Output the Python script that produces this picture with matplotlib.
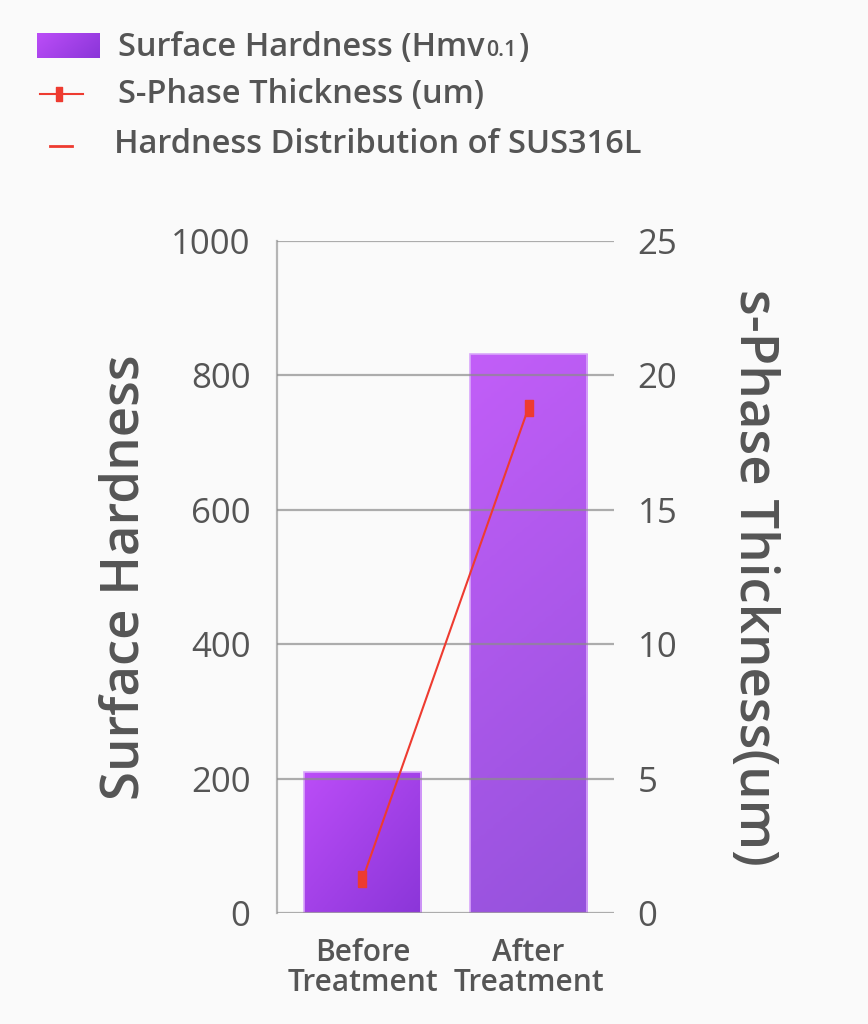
import matplotlib
matplotlib.use('Agg')
import matplotlib.pyplot as plt
from matplotlib.lines import Line2D
from matplotlib.colors import LinearSegmentedColormap
import numpy as np

BG = '#fafafa'
TEXT = '#555555'
RED = '#ee3b30'
GRID = '#8c8c8c'
FW = 600

plt.rcParams['font.family'] = ['Open Sans', 'Noto Sans', 'DejaVu Sans']

# data
categories = ['Before\nTreatment', 'After\nTreatment']
hardness = [210, 832]
thickness = [1.25, 18.8]
left_ticks = [0, 200, 400, 600, 800, 1000]
right_ticks = [0, 5, 10, 15, 20, 25]

fig = plt.figure(figsize=(8.68, 10.24), dpi=100)
fig.patch.set_facecolor(BG)
ax = fig.add_axes([0.3191, 0.1084, 0.3883, 0.6562])
ax.set_facecolor(BG)

x = np.arange(len(categories))
bars = ax.bar(x, hardness, width=0.705, facecolor='none',
              edgecolor='#d9a6fb', linewidth=1.2, zorder=1)

# gradient fills, one per bar
grads = [
    LinearSegmentedColormap.from_list('g0', ['#bb4df7', '#8b36d9']),
    LinearSegmentedColormap.from_list('g1', ['#c25ef8', '#9552dc']),
]
for i, b in enumerate(bars):
    bx, by = b.get_x(), b.get_y()
    bw, bh = b.get_width(), b.get_height()
    xx, yy = np.meshgrid(np.linspace(0, 1, 50), np.linspace(0, 1, 100))
    if i == 0:
        z = xx * 0.5 + (1 - yy) * 0.5
    else:
        z = xx * 0.15 + (1 - yy) * 0.85
    im = ax.imshow(z, cmap=grads[i], extent=(bx, bx + bw, by, by + bh),
                   aspect='auto', origin='lower', zorder=0.9)
    im.set_clip_path(b)
ax.set_xlim(-0.515, 1.515)
ax.set_ylim(0, 1000)

ax.set_yticks(left_ticks)
ax.yaxis.grid(True, color=GRID, linewidth=1.6, alpha=0.7, zorder=2)
ax.set_axisbelow(False)
for s in ['top', 'right', 'bottom']:
    ax.spines[s].set_visible(False)
ax.spines['left'].set_color('#b5b5b5')
ax.spines['left'].set_linewidth(1.6)
ax.tick_params(axis='y', length=0, pad=19, labelsize=25, labelcolor=TEXT)
ax.set_xticks(x)
ax.set_xticklabels(categories, fontsize=21.5, color=TEXT, fontweight=FW,
                   linespacing=1.0)
ax.tick_params(axis='x', length=0, pad=18)
ax.set_ylabel('Surface Hardness', fontsize=38, color=TEXT, fontweight=FW,
              labelpad=14)

ax2 = ax.twinx()
ax2.set_ylim(0, 25)
ax2.set_yticks(right_ticks)
for s in ['top', 'right', 'bottom', 'left']:
    ax2.spines[s].set_visible(False)
ax2.tick_params(axis='y', length=0, pad=17, labelsize=25, labelcolor=TEXT)
marker = [(-0.45, -1), (0.45, -1), (0.45, 1), (-0.45, 1), (-0.45, -1)]
ax2.plot(x, thickness, color=RED, linewidth=1.5, marker=marker,
         markersize=12, markerfacecolor=RED, markeredgecolor=RED, zorder=5)
ax2.set_ylabel('s-Phase Thickness(um)', fontsize=38, color=TEXT,
               fontweight=FW, rotation=-90, labelpad=74)

# legend drawn by hand
def px(xp, yp):
    return xp / 868, 1 - yp / 1024

gx0, gy0 = px(37, 58)
lg = fig.add_axes([gx0, gy0, 63 / 868, 25 / 1024])
lg.axis('off')
gx, gy = np.meshgrid(np.linspace(0, 1, 40), np.linspace(0, 1, 20))
lg.imshow(gx * 0.7 + gy * 0.3, cmap=grads[0], aspect='auto',
          extent=(0, 1, 0, 1), origin='upper')
lg.set_xlim(0, 1)
lg.set_ylim(0, 1)

lsize = 23.5
base1 = px(0, 56)[1]
t = fig.text(118 / 868, base1, 'Surface Hardness (Hmv', fontsize=lsize, color=TEXT,
             fontweight=FW, va='baseline')
fig.canvas.draw()
r = fig.canvas.get_renderer()
bb = t.get_window_extent(r)
t2 = fig.text(bb.x1 / 868 + 0.002, base1, '0.1', fontsize=15.5, color=TEXT,
              fontweight=FW, va='baseline')
bb2 = t2.get_window_extent(r)
fig.text(bb2.x1 / 868 + 0.002, base1, ')', fontsize=lsize, color=TEXT,
         fontweight=FW, va='baseline')

ly = px(0, 94)[1]
fig.add_artist(Line2D([40 / 868, 83 / 868], [ly, ly], color=RED, linewidth=1.5,
                      transform=fig.transFigure))
fig.add_artist(Line2D([59 / 868], [ly], color=RED, marker=marker, markersize=9.5,
                      markerfacecolor=RED, markeredgecolor=RED, linestyle='none',
                      transform=fig.transFigure))
fig.text(118 / 868, px(0, 103)[1], 'S-Phase Thickness (um)', fontsize=lsize,
         color=TEXT, fontweight=FW, va='baseline')

ly3 = px(0, 146)[1]
fig.add_artist(Line2D([50 / 868, 72 / 868], [ly3, ly3], color=RED, linewidth=2,
                      transform=fig.transFigure))
fig.text(114 / 868, px(0, 153)[1], 'Hardness Distribution of SUS316L',
         fontsize=lsize, color=TEXT, fontweight=FW, va='baseline')

fig.savefig('out.png', dpi=100, facecolor=BG)
